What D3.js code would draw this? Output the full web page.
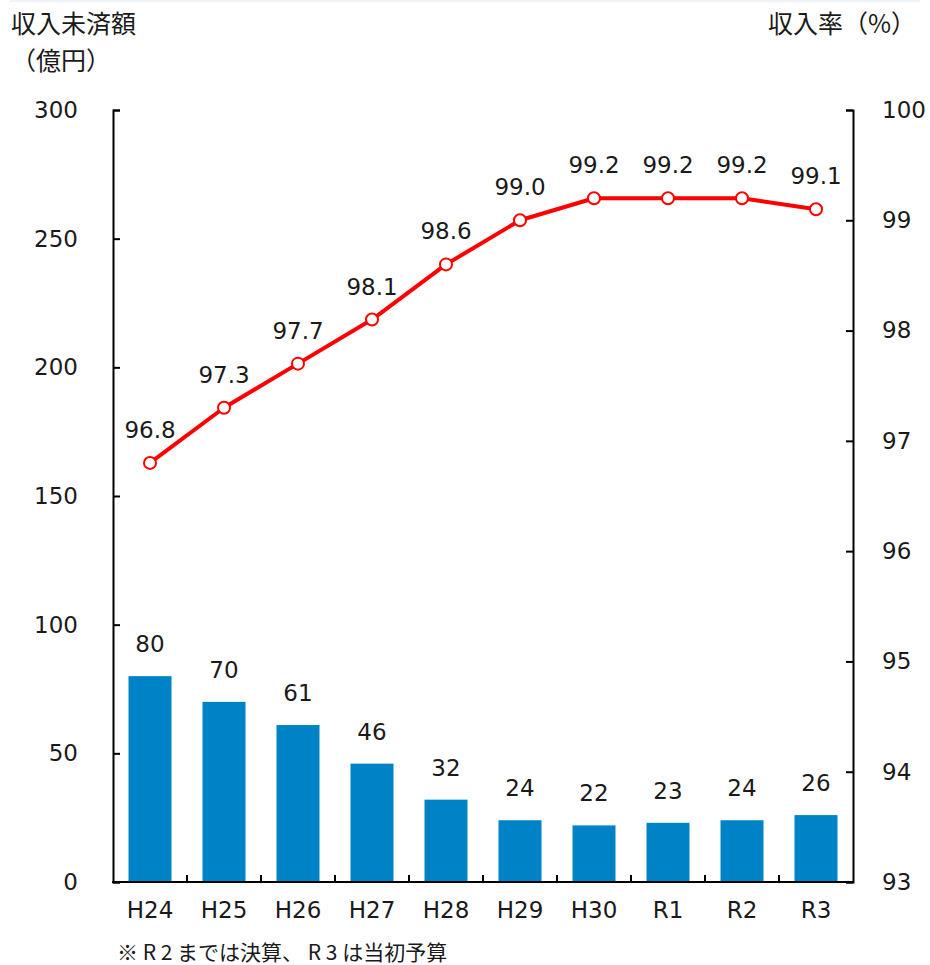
<!DOCTYPE html>
<html>
<head>
<meta charset="utf-8">
<script src="https://cdn.jsdelivr.net/npm/d3@7"></script>
<style>
  html, body { margin: 0; padding: 0; background: #fff; }
  svg { display: block; }
  text { fill: #1a1a1a; }
  .num { font-family: "DejaVu Sans", Verdana, sans-serif; font-size: 23px; }
  .jp { font-family: "Noto Sans CJK JP", "Noto Sans", sans-serif; }
</style>
</head>
<body>
<svg id="chart" width="930" height="965"></svg>
<script>
// Fiscal years
const categories = ["H24", "H25", "H26", "H27", "H28", "H29", "H30", "R1", "R2", "R3"];
// Uncollected revenue (100 million yen)
const uncollected = [80, 70, 61, 46, 32, 24, 22, 23, 24, 26];
// Collection rate (%)
const collectionRate = [96.8, 97.3, 97.7, 98.1, 98.6, 99.0, 99.2, 99.2, 99.2, 99.1];
const leftTicks = [0, 50, 100, 150, 200, 250, 300];
const rightTicks = [93, 94, 95, 96, 97, 98, 99, 100];

const svg = d3.select("#chart");
const plot = { left: 113, right: 853, top: 110, bottom: 882 };

const xOuter = d3.scaleBand().domain(categories).range([plot.left, plot.right]);
const yL = d3.scaleLinear().domain([0, 300]).range([plot.bottom, plot.top]);
const yR = d3.scaleLinear().domain([93, 100]).range([plot.bottom, plot.top]);
const cx = i => xOuter(categories[i]) + xOuter.bandwidth() / 2;

// faint rule along the top edge
svg.append("rect").attr("x", 10).attr("y", 0).attr("width", 910).attr("height", 2).attr("fill", "#eef2f7");

// bars
svg.append("g").selectAll("rect").data(uncollected).join("rect")
  .attr("x", (d, i) => cx(i) - 21.5)
  .attr("width", 43)
  .attr("y", d => yL(d))
  .attr("height", d => yL(0) - yL(d))
  .attr("fill", "#0083C6");

// bar value labels
svg.append("g").selectAll("text").data(uncollected).join("text")
  .attr("class", "num")
  .attr("x", (d, i) => cx(i))
  .attr("y", d => yL(d) - 24)
  .attr("text-anchor", "middle")
  .text(d => d);

// axes
const axisStyle = g => {
  g.selectAll("path.domain").attr("stroke", "#000").attr("stroke-width", 2);
  g.selectAll(".tick line").attr("stroke", "#000").attr("stroke-width", 2);
  g.selectAll(".tick text").attr("class", "num").attr("fill", "#1a1a1a");
};

svg.append("g")
  .attr("transform", `translate(${plot.left},0)`)
  .call(d3.axisLeft(yL).tickValues(leftTicks).tickFormat(d3.format("d")).tickSize(-7).tickSizeOuter(-7).tickPadding(35))
  .call(axisStyle);

svg.append("g")
  .attr("transform", `translate(${plot.right},0)`)
  .call(d3.axisRight(yR).tickValues(rightTicks).tickFormat(d3.format("d")).tickSize(-7).tickSizeOuter(-7).tickPadding(29))
  .call(axisStyle);

// category axis: ticks sit between categories, pointing inward
const xAxisG = svg.append("g").attr("transform", `translate(0,${plot.bottom})`);
xAxisG.append("line").attr("x1", plot.left - 1).attr("x2", plot.right + 1)
  .attr("y1", 0).attr("y2", 0).attr("stroke", "#000").attr("stroke-width", 2);
xAxisG.selectAll("line.tk").data(categories.slice(1)).join("line")
  .attr("class", "tk")
  .attr("x1", d => xOuter(d)).attr("x2", d => xOuter(d))
  .attr("y1", 0).attr("y2", -7).attr("stroke", "#000").attr("stroke-width", 2);
xAxisG.selectAll("text").data(categories).join("text")
  .attr("class", "num")
  .attr("x", d => xOuter(d) + xOuter.bandwidth() / 2)
  .attr("y", 36)
  .attr("text-anchor", "middle")
  .text(d => d);

// collection rate line
const line = d3.line().x((d, i) => cx(i)).y(d => yR(d));
svg.append("path").datum(collectionRate)
  .attr("d", line)
  .attr("fill", "none")
  .attr("stroke", "#FF0000")
  .attr("stroke-width", 4)
  .attr("stroke-linejoin", "round");

svg.append("g").selectAll("circle").data(collectionRate).join("circle")
  .attr("cx", (d, i) => cx(i))
  .attr("cy", d => yR(d))
  .attr("r", 6)
  .attr("fill", "#fff")
  .attr("stroke", "#FF0000")
  .attr("stroke-width", 2);

svg.append("g").selectAll("text").data(collectionRate).join("text")
  .attr("class", "num")
  .attr("x", (d, i) => cx(i))
  .attr("y", d => yR(d) - 25)
  .attr("text-anchor", "middle")
  .text(d => d.toFixed(1));

// axis titles
svg.append("text").attr("class", "jp").attr("x", 11).attr("y", 33).style("font-size", "25px").text("収入未済額");
svg.append("text").attr("class", "jp").attr("x", 11).attr("y", 70).style("font-size", "25px").text("（億円）");
svg.append("text").attr("class", "jp").attr("x", 916).attr("y", 33).attr("text-anchor", "end").style("font-size", "25px").text("収入率（%）");

// footnote
svg.append("text").attr("class", "jp").attr("x", 117).attr("y", 960).style("font-size", "21px")
  .text("※ R 2 までは決算、 R 3 は当初予算");
</script>
</body>
</html>
